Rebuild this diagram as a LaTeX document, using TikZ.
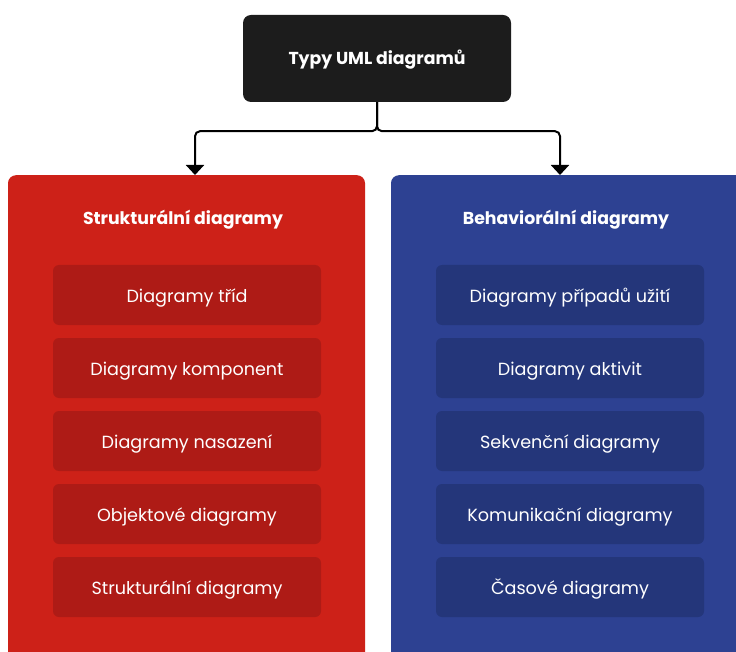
\documentclass[tikz,border=0pt]{standalone}
\usepackage{fontspec}
\setmainfont{Poppins}
\usetikzlibrary{arrows.meta,positioning,calc}
\definecolor{boxblack}{HTML}{1C1C1C}
\definecolor{panelred}{HTML}{CD2118}
\definecolor{itemred}{HTML}{AE1B16}
\definecolor{panelblue}{HTML}{2D4192}
\definecolor{itemblue}{HTML}{24367A}
\tikzset{
    panel/.style={rectangle, rounded corners=8pt, minimum width=357pt, minimum height=520pt, anchor=north},
    item/.style={rectangle, rounded corners=6pt, minimum width=268pt, minimum height=60pt, text height=18pt, text depth=4pt, text=white, font=\fontsize{17.6}{21}\selectfont},
    heading/.style={text=white, font=\fontsize{17.3}{21}\selectfont\bfseries},
    conn/.style={line width=2pt, rounded corners=5pt, -{Triangle[width=18pt,length=10pt]}}
}

\begin{document}
\begin{tikzpicture}[x=1pt, y=-1pt]
    \clip (0,0) rectangle (736,652);
    \fill[white] (0,0) rectangle (736,652);

    % Root
    \node[rectangle, rounded corners=8pt, fill=boxblack, minimum width=268pt, minimum height=87pt, heading, text height=17pt, text depth=4pt] (typy) at (377,58.5) {Typy UML diagramů};

    % Panels
    \node[panel, fill=panelred] (strukt) at (186.5,175) {};
    \node[panel, fill=panelblue] (behav) at (569.5,175) {};
    \node[heading] (struktTitle) at (183,219.5) {Strukturální diagramy};
    \node[heading] (behavTitle) at (566,219.5) {Behaviorální diagramy};

    % Items
    \foreach \i/\txt in {0/Diagramy tříd, 1/Diagramy komponent, 2/Diagramy nasazení, 3/Objektové diagramy, 4/Strukturální diagramy} {
        \node[item, fill=itemred] (s\i) at (187, 295+73*\i) {\txt};
    }
    \foreach \i/\txt in {0/Diagramy případů užití, 1/Diagramy aktivit, 2/Sekvenční diagramy, 3/Komunikační diagramy, 4/Časové diagramy} {
        \node[item, fill=itemblue] (b\i) at (570, 295+73*\i) {\txt};
    }

    % Connectors
    \draw[conn] (typy.south) -- ++(0,29) -| ([xshift=8.5pt]strukt.north);
    \draw[conn] (typy.south) -- ++(0,29) -| ([xshift=-9.5pt]behav.north);
\end{tikzpicture}
\end{document}
